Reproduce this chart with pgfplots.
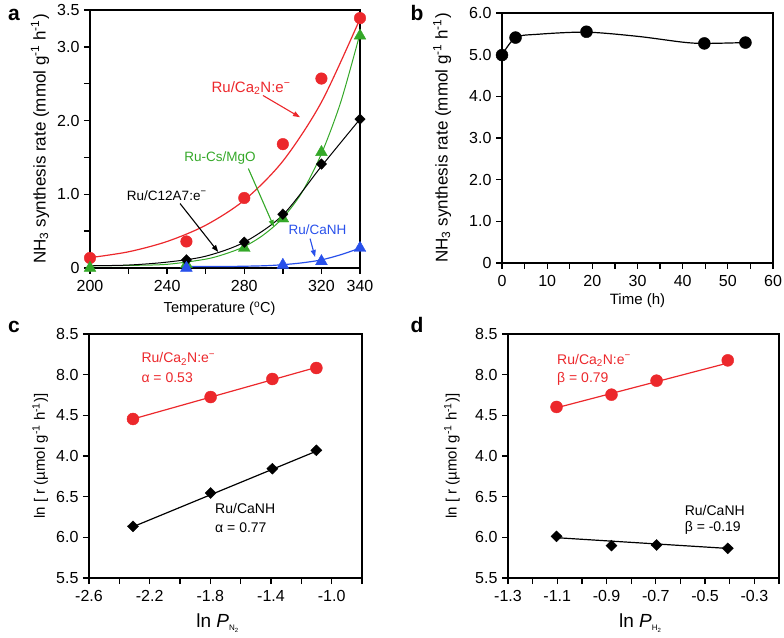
\documentclass[border=0pt]{standalone}
\usepackage{fontspec}
\setmainfont{Liberation Sans}
\usepackage{pgfplots}
\pgfplotsset{compat=1.18}
\usetikzlibrary{arrows.meta}
\definecolor{cred}{RGB}{236,40,44}
\definecolor{cgreen}{RGB}{52,168,40}
\definecolor{cblue}{RGB}{40,80,235}
\pgfplotsset{
  myax/.style={
    scale only axis, clip=false, anchor=south west,
    axis line style={line width=1.6pt},
    tick align=outside, major tick length=6pt,
    tick style={line width=1.3pt, black},
    xtick pos=bottom, ytick pos=left,
    tick label style={font=\fontsize{16}{18}\selectfont},
    xticklabel style={yshift=-3pt},
    yticklabel style={xshift=-1pt},
    label style={font=\fontsize{15}{18}\selectfont},
  },
  fitline/.style={line width=1.2pt},
}
\begin{document}
\begin{tikzpicture}
\path[use as bounding box] (0,0) rectangle (784pt,637pt);
% ---------------- panel a
\begin{axis}[myax, at={(90pt,369pt)}, width=270pt, height=258pt,
  xmin=200, xmax=340, ymin=0, ymax=3.5,
  xtick={200,220,240,260,280,300,320,340},
  xticklabels={200,{},240,{},280,{},320,340},
  ytick={0,0.5,1,1.5,2,2.5,3,3.5},
  yticklabels={0,{},1.0,{},2.0,{},3.0,3.5},
  xlabel={Temperature (\textsuperscript{o}C)},
  ylabel={NH\textsubscript{3} synthesis rate (mmol g\textsuperscript{-1} h\textsuperscript{-1})},
  xlabel style={at={(axis description cs:0.48,-0.158)}, anchor=center, font=\fontsize{14.5}{17}\selectfont},
  ylabel style={at={(axis description cs:-0.185,0.5)}, anchor=center, font=\fontsize{17}{20}\selectfont},
]
\addplot[cred, fitline, smooth] coordinates {(200,0.14)(220,0.22)(240,0.36)(260,0.58)(280,0.92)(300,1.45)(320,2.25)(340,3.38)};
\addplot[cgreen, line width=1pt, smooth] coordinates {(200,0.03)(220,0.035)(240,0.05)(260,0.12)(270,0.19)(280,0.29)(290,0.45)(300,0.68)(310,1.03)(320,1.55)(330,2.25)(340,3.18)};
\addplot[black, line width=1pt, smooth] coordinates {(200,0.03)(220,0.04)(240,0.08)(260,0.16)(280,0.35)(300,0.72)(320,1.38)(340,2.02)};
\addplot[cblue, fitline, smooth] coordinates {(250,0.02)(270,0.02)(290,0.03)(300,0.045)(310,0.07)(320,0.11)(330,0.18)(340,0.27)};
\addplot[only marks, mark=*, mark size=5.8pt, cred] coordinates {(200,0.136)(250,0.36)(280,0.95)(300,1.68)(320,2.57)(340,3.39)};
\addplot[only marks, mark=triangle*, mark size=6.8pt, cgreen] coordinates {(200,0.0)(250,0.05)(280,0.27)(300,0.67)(320,1.57)(340,3.15)};
\addplot[only marks, mark=diamond*, mark size=5.3pt, mark options={xscale=1.3}, black] coordinates {(250,0.11)(280,0.35)(300,0.73)(320,1.41)(340,2.02)};
\addplot[only marks, mark=triangle*, mark size=6.8pt, cblue] coordinates {(250,0.0)(300,0.04)(320,0.09)(340,0.27)};
\node[cred, font=\fontsize{15}{17}\selectfont] at (axis cs:283.5,2.445) {Ru/Ca\textsubscript{2}N:e\textsuperscript{−}};
\draw[cred, line width=1.1pt, -{Triangle[length=7pt,width=5pt]}] (axis cs:289.7,2.34) -- (axis cs:308.9,2.045);
\node[cgreen, font=\fontsize{13.5}{16}\selectfont] at (axis cs:267.4,1.495) {Ru-Cs/MgO};
\draw[cgreen, line width=1.1pt, -{Triangle[length=7pt,width=5pt]}] (axis cs:282.1,1.349) -- (axis cs:295.4,0.556);
\node[black, font=\fontsize{13.5}{16}\selectfont] at (axis cs:239.8,0.986) {Ru/C12A7:e\textsuperscript{−}};
\draw[black, line width=1.1pt, -{Triangle[length=7pt,width=5pt]}] (axis cs:246.7,0.874) -- (axis cs:266.5,0.217);
\node[cblue, font=\fontsize{13.5}{16}\selectfont] at (axis cs:318,0.518) {Ru/CaNH};
\draw[cblue, line width=1.1pt, -{Triangle[length=7pt,width=5pt]}] (axis cs:314.1,0.399) -- (axis cs:316.7,0.149);
\end{axis}
% ---------------- panel b
\begin{axis}[myax, at={(502pt,374pt)}, width=271pt, height=250pt,
  xmin=0, xmax=60, ymin=0, ymax=6,
  xtick={0,5,10,15,20,25,30,35,40,45,50,55,60},
  xticklabels={0,{},10,{},20,{},30,{},40,{},50,{},60},
  ytick={0,1,2,3,4,5,6},
  yticklabels={0,1.0,2.0,3.0,4.0,5.0,6.0},
  xlabel={Time (h)},
  ylabel={NH\textsubscript{3} synthesis rate (mmol g\textsuperscript{-1} h\textsuperscript{-1})},
  xlabel style={at={(axis description cs:0.5,-0.15)}, anchor=center},
  ylabel style={at={(axis description cs:-0.221,0.5)}, anchor=center, font=\fontsize{17}{20}\selectfont},
]
\addplot[black, fitline, smooth] coordinates {(0,4.99)(3,5.41)(8,5.49)(18.7,5.54)(30,5.44)(40,5.3)(44.8,5.27)(53.9,5.29)};
\addplot[only marks, mark=*, mark size=6pt, black] coordinates {(0,4.99)(3,5.41)(18.7,5.55)(44.8,5.27)(53.9,5.29)};
\end{axis}
% ---------------- panel c
\begin{axis}[myax, at={(89pt,59pt)}, width=273pt, height=244pt,
  xmin=-2.6, xmax=-0.8, ymin=5.5, ymax=8.5,
  xtick={-2.6,-2.4,-2.2,-2.0,-1.8,-1.6,-1.4,-1.2,-1.0,-0.8},
  xticklabels={-2.6,{},-2.2,{},-1.8,{},-1.4,{},-1.0,{}},
  ytick={5.5,6,6.5,7,7.5,8,8.5},
  yticklabels={5.5,6.0,6.5,4.0,4.5,8.0,8.5},
  xlabel={\fontsize{19}{22}\selectfont ln \textit{P}\raisebox{-3pt}{\fontsize{8}{9}\selectfont N\raisebox{-1.5pt}{\fontsize{6}{7}\selectfont 2}}},
  ylabel={ln [ r (µmol g\textsuperscript{-1} h\textsuperscript{-1})]},
  xlabel style={at={(axis description cs:0.47,-0.184)}, anchor=center},
  ylabel style={at={(axis description cs:-0.179,0.5)}, anchor=center},
]
\addplot[cred, fitline] coordinates {(-2.31,7.455)(-1.10,8.09)};
\addplot[black, fitline] coordinates {(-2.31,6.13)(-1.10,7.06)};
\addplot[only marks, mark=*, mark size=6pt, cred] coordinates {(-2.31,7.455)(-1.798,7.725)(-1.391,7.947)(-1.101,8.082)};
\addplot[only marks, mark=diamond*, mark size=5.5pt, mark options={xscale=1.35}, black] coordinates {(-2.31,6.135)(-1.798,6.545)(-1.391,6.844)(-1.101,7.07)};
\node[cred, anchor=west, font=\fontsize{14}{16}\selectfont] at (axis cs:-2.277,8.193) {Ru/Ca\textsubscript{2}N:e\textsuperscript{−}};
\node[cred, anchor=west, font=\fontsize{14}{16}\selectfont] at (axis cs:-2.277,7.959) {α = 0.53};
\node[black, anchor=west, font=\fontsize{14}{16}\selectfont] at (axis cs:-1.791,6.357) {Ru/CaNH};
\node[black, anchor=west, font=\fontsize{14}{16}\selectfont] at (axis cs:-1.791,6.123) {α = 0.77};
\end{axis}
% ---------------- panel d
\begin{axis}[myax, at={(508pt,59pt)}, width=271pt, height=244pt,
  xmin=-1.3, xmax=-0.2, ymin=5.5, ymax=8.5,
  xtick={-1.3,-1.2,-1.1,-1.0,-0.9,-0.8,-0.7,-0.6,-0.5,-0.4,-0.3,-0.2},
  xticklabels={-1.3,{},-1.1,{},-0.9,{},-0.7,{},-0.5,{},-0.3,{}},
  ytick={5.5,6,6.5,7,7.5,8,8.5},
  yticklabels={5.5,6.0,6.5,4.0,4.5,8.0,8.5},
  xlabel={\fontsize{19}{22}\selectfont ln \textit{P}\raisebox{-3pt}{\fontsize{8}{9}\selectfont H\raisebox{-1.5pt}{\fontsize{6}{7}\selectfont 2}}},
  ylabel={ln [ r (µmol g\textsuperscript{-1} h\textsuperscript{-1})]},
  xlabel style={at={(axis description cs:0.487,-0.184)}, anchor=center},
  ylabel style={at={(axis description cs:-0.207,0.5)}, anchor=center},
]
\addplot[cred, fitline] coordinates {(-1.10,7.595)(-0.405,8.145)};
\addplot[black, fitline] coordinates {(-1.10,5.995)(-0.405,5.863)};
\addplot[only marks, mark=*, mark size=6pt, cred] coordinates {(-1.103,7.603)(-0.880,7.754)(-0.697,7.926)(-0.408,8.176)};
\addplot[only marks, mark=diamond*, mark size=5.5pt, mark options={xscale=1.35}, black] coordinates {(-1.103,6.012)(-0.880,5.898)(-0.697,5.906)(-0.408,5.865)};
\node[cred, anchor=west, font=\fontsize{14}{16}\selectfont] at (axis cs:-1.1145,8.18) {Ru/Ca\textsubscript{2}N:e\textsuperscript{−}};
\node[cred, anchor=west, font=\fontsize{14}{16}\selectfont] at (axis cs:-1.1145,7.943) {β = 0.79};
\node[black, anchor=west, font=\fontsize{14}{16}\selectfont] at (axis cs:-0.5966,6.336) {Ru/CaNH};
\node[black, anchor=west, font=\fontsize{14}{16}\selectfont] at (axis cs:-0.5966,6.111) {β = -0.19};
\end{axis}
% ---------------- panel letters
\node[font=\fontsize{21}{24}\selectfont\bfseries] at (14pt,622pt) {a};
\node[font=\fontsize{21}{24}\selectfont\bfseries] at (417pt,624pt) {b};
\node[font=\fontsize{21}{24}\selectfont\bfseries] at (14pt,310pt) {c};
\node[font=\fontsize{21}{24}\selectfont\bfseries] at (417pt,312pt) {d};
\end{tikzpicture}
\end{document}
